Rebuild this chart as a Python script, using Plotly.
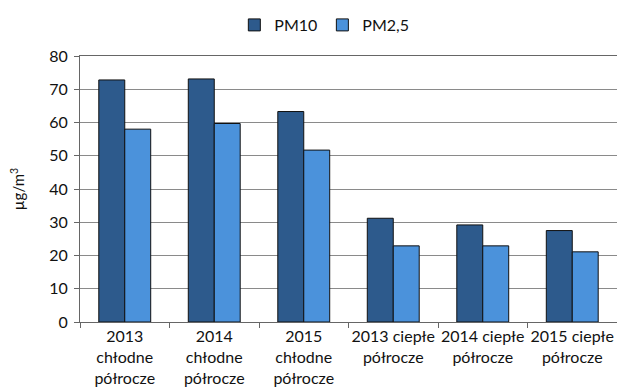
import plotly.graph_objects as go

categories = ["2013<br>chłodne<br>półrocze", "2014<br>chłodne<br>półrocze", "2015<br>chłodne<br>półrocze",
              "2013 ciepłe<br>półrocze", "2014 ciepłe<br>półrocze", "2015 ciepłe<br>półrocze"]
pm10 = [72.8, 73.1, 63.3, 31.2, 29.2, 27.5]
pm25 = [58.0, 59.7, 51.7, 22.9, 22.9, 21.1]

fig = go.Figure()
fig.add_trace(go.Bar(x=categories, y=pm10, name="PM10",
                     marker=dict(color="#2D5A8C", line=dict(color="#111111", width=1))))
fig.add_trace(go.Bar(x=categories, y=pm25, name="PM2,5",
                     marker=dict(color="#4B92DB", line=dict(color="#111111", width=1))))

fig.update_layout(
    width=617, height=382,
    barmode="group", bargap=0.42, bargroupgap=0,
    plot_bgcolor="white", paper_bgcolor="white",
    font=dict(family="Lato, Open Sans, sans-serif", size=15, color="#111111"),
    margin=dict(l=72, r=8, t=48, b=68, autoexpand=False),
    legend=dict(orientation="h", x=0.455, xanchor="center", yref="container", y=1.0, yanchor="top",
                font=dict(size=16), itemwidth=30, traceorder="normal"),
    xaxis=dict(showline=True, linecolor="#666666", linewidth=1, mirror=True,
               ticks="outside", tickson="boundaries", ticklen=5, tickcolor="#666666",
               tickfont=dict(size=16), tickangle=0, automargin=False),
    yaxis=dict(range=[0, 80], dtick=10, showgrid=True, gridcolor="#8a8a8a", gridwidth=1,
               showline=True, linecolor="#666666", linewidth=1, mirror=True,
               ticks="outside", ticklen=5, tickcolor="#666666", ticklabelstandoff=3,
               tickfont=dict(size=16), automargin=False,
               title=dict(text="µg/m<sup>3</sup>", font=dict(size=15), standoff=22)),
)

fig.write_html("out.html")
